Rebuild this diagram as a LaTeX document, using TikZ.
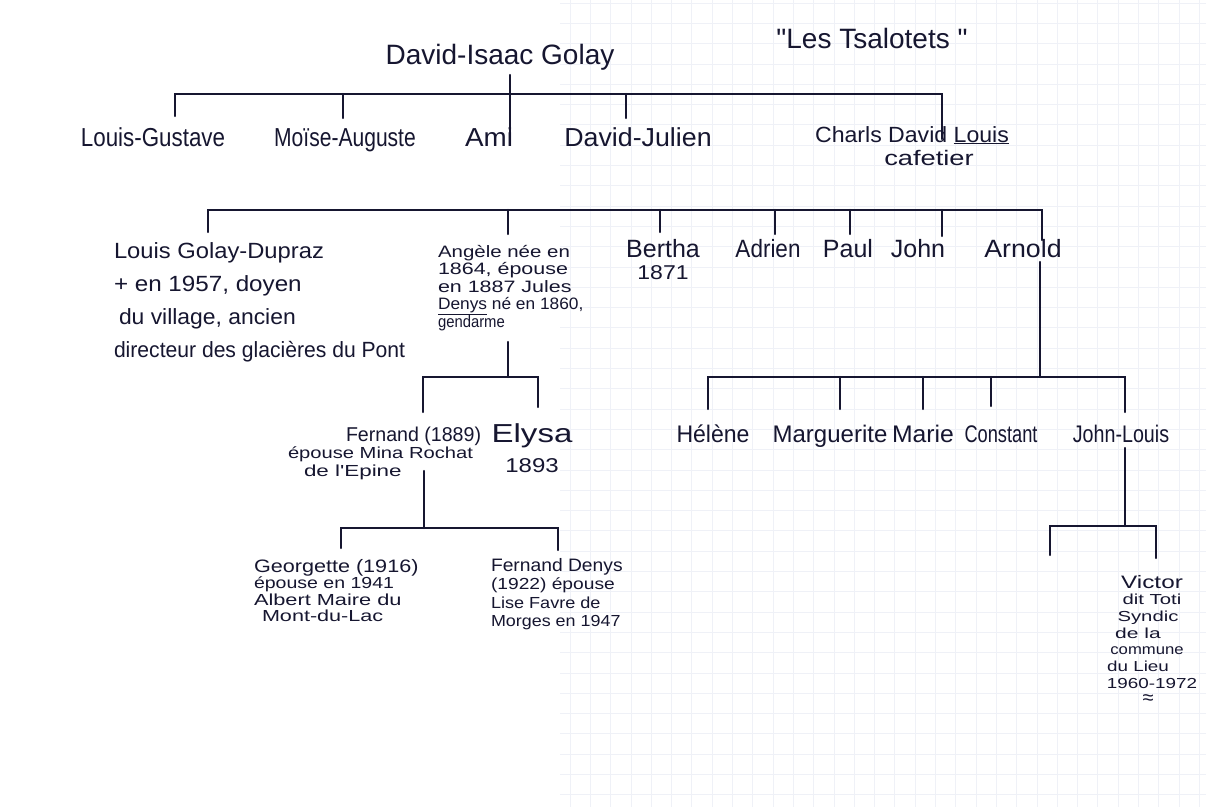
\documentclass[tikz,border=0pt]{standalone}
\usepackage{fontspec}
\setmainfont{Liberation Sans}[Ligatures=TeXOff]
\usepackage{graphicx}
\definecolor{inkc}{RGB}{22,22,48}
\definecolor{gridc}{RGB}{239,241,247}
\newcommand\sx[2]{\scalebox{#1}[1]{#2}}
\newcommand\hw[3]{\scalebox{#1}[1]{\fontsize{#2}{#2}\selectfont #3}}
\tikzset{
  inkline/.style={draw=inkc, line width=2.3pt, line cap=round},
  hw/.style={inner sep=0pt, outer sep=0pt, text=inkc, anchor=base},
  hwl/.style={inner sep=0pt, outer sep=0pt, text=inkc, anchor=base west},
  gridline/.style={draw=gridc, line width=0.8pt}
}
\begin{document}
\begin{tikzpicture}[x=1pt,y=-1pt]
\useasboundingbox (0,0) rectangle (1206,807);
\fill[white] (0,0) rectangle (1206,807);
% faint graph paper
\foreach \i in {0,...,31} {\draw[gridline] ({570+\i*20.3},0) -- ({570+\i*20.3},807);}
\foreach \j in {0,...,40} {\draw[gridline] (560,{3+\j*20.3}) -- (1206,{3+\j*20.3});}

% ---------- texts ----------
\node[hw] (tsa) at (872,48) {\hw{1}{28}{"Les Tsalotets "}};
\node[hw] (dig) at (500,64) {\hw{1}{28}{David-Isaac Golay}};

\node[hw] (lg)  at (153,146) {\hw{0.86}{26}{Louis-Gustave}};
\node[hw] (ma)  at (345,146) {\hw{0.81}{26}{Moïse-Auguste}};
\node[hw] (ami) at (489,146) {\hw{1.07}{26}{Ami}};
\node[hw] (dj)  at (638,146) {\hw{1.03}{26}{David-Julien}};
\node[hw] (cdl) at (912,142) {\hw{1.05}{22}{Charls David \underline{Louis}}};
\node[hw] (caf) at (929,165) {\hw{1.3}{21}{cafetier}};

\node[hwl] (lgd) at (114,258) {\fontsize{22}{33}\selectfont\begin{tabular}[t]{@{}l@{}}
  \sx{1.08}{Louis Golay-Dupraz}\\
  \sx{1.1}{+ en 1957, doyen}\\
  \hspace*{5pt}\sx{1.04}{du village, ancien}\\
  \sx{0.96}{directeur des glacières du Pont}
\end{tabular}};

\node[hwl] (ang) at (438,257) {\fontsize{16.5}{17.5}\selectfont\begin{tabular}[t]{@{}l@{}}
  \sx{1.24}{Angèle née en}\\
  \sx{1.3}{1864, épouse}\\
  \sx{1.3}{en 1887 Jules}\\
  \sx{1.05}{\underline{Denys} né en 1860,}\\
  \sx{0.9}{gendarme}
\end{tabular}};

\node[hw] (ber) at (663,257) {\fontsize{15}{22}\selectfont\begin{tabular}[t]{@{}c@{}}
  \hw{1}{25}{Bertha}\\
  \hw{1.15}{20}{1871}
\end{tabular}};
\node[hw] (adr) at (768,257) {\hw{0.9}{25}{Adrien}};
\node[hw] (pau) at (848,257) {\hw{1}{25}{Paul}};
\node[hw] (joh) at (918,257) {\hw{1}{25}{John}};
\node[hw] (arn) at (1023,257) {\hw{1.07}{25}{Arnold}};

\node[hwl] (fer) at (288,441) {\fontsize{16}{17.5}\selectfont\begin{tabular}[t]{@{}l@{}}
  \hspace*{58pt}\hw{0.98}{20}{Fernand (1889)}\\
  \sx{1.26}{épouse Mina Rochat}\\
  \hspace*{16pt}\sx{1.4}{de l'Epine}
\end{tabular}};
\node[hw] (ely) at (532,442) {\fontsize{15}{30}\selectfont\begin{tabular}[t]{@{}c@{}}
  \hw{1.27}{26}{Elysa}\\
  \hw{1.2}{20}{1893}
\end{tabular}};

\node[hw] (hel) at (713,442) {\hw{0.96}{24}{Hélène}};
\node[hw] (mar) at (830,442) {\hw{1.0}{24}{Marguerite}};
\node[hw] (mri) at (923,442) {\hw{1.03}{24}{Marie}};
\node[hw] (con) at (1001,442) {\hw{0.76}{24}{Constant}};
\node[hw] (jl)  at (1121,442) {\hw{0.82}{24}{John-Louis}};

\node[hwl] (geo) at (254,572) {\fontsize{16}{16.3}\selectfont\begin{tabular}[t]{@{}l@{}}
  \hw{1.2}{18}{Georgette (1916)}\\
  \sx{1.22}{épouse en 1941}\\
  \sx{1.36}{Albert Maire du}\\
  \hspace*{8pt}\sx{1.35}{Mont-du-Lac}
\end{tabular}};
\node[hwl] (fde) at (491,571) {\fontsize{16}{18.5}\selectfont\begin{tabular}[t]{@{}l@{}}
  \hw{1.07}{18}{Fernand Denys}\\
  \sx{1.2}{(1922) épouse}\\
  \sx{1.13}{Lise Favre de}\\
  \sx{1.12}{Morges en 1947}
\end{tabular}};

\node[hw] (vic) at (1152,588) {\fontsize{14.5}{16.7}\selectfont\begin{tabular}[t]{@{}c@{}}
  \hw{1.35}{18}{Victor}\\
  \sx{1.4}{dit Toti}\\
  \sx{1.4}{Syndic}\hspace*{8pt}\\
  \sx{1.45}{de la}\hspace*{28pt}\\
  \sx{1.15}{commune}\hspace*{10pt}\\
  \sx{1.3}{du Lieu}\hspace*{28pt}\\
  \sx{1.3}{1960-1972}\\
  \fontsize{20}{20}\selectfont ≈\hspace*{8pt}
\end{tabular}};

% ---------- connectors ----------
% generation 1
\coordinate (g1top) at (510,75);
\coordinate (g1bot) at (510,139);
\coordinate (g1L) at (175,94);
\coordinate (g1R) at (942,94);
\coordinate (g1ma) at (343,94);
\coordinate (g1dj) at (626,94);
\coordinate (lgT) at (175,116);
\coordinate (maT) at (343,118);
\coordinate (djT) at (626,118);
\coordinate (cdlT) at (942,139);
\draw[inkline] (g1top) -- (g1bot);
\draw[inkline] (lgT) -- (g1L) -- (g1R) -- (cdlT);
\draw[inkline] (g1ma) -- (maT);
\draw[inkline] (g1dj) -- (djT);

% generation 2 (children of Charles David Louis)
\coordinate (g2L) at (208,210);
\coordinate (g2R) at (1042,210);
\coordinate (lgdT) at (208,232);
\coordinate (g2an) at (508,210);   \coordinate (angT) at (508,234);
\coordinate (g2be) at (660,210);   \coordinate (berT) at (660,232);
\coordinate (g2ad) at (775,210);   \coordinate (adrT) at (775,234);
\coordinate (g2pa) at (850,210);   \coordinate (pauT) at (850,234);
\coordinate (g2jo) at (942,210);   \coordinate (johT) at (942,236);
\coordinate (arnT) at (1042,240);
\draw[inkline] (lgdT) -- (g2L) -- (g2R) -- (arnT);
\draw[inkline] (g2an) -- (angT);
\draw[inkline] (g2be) -- (berT);
\draw[inkline] (g2ad) -- (adrT);
\draw[inkline] (g2pa) -- (pauT);
\draw[inkline] (g2jo) -- (johT);

% Angele's children
\coordinate (angB) at (508,342);
\coordinate (g3a) at (508,377);
\coordinate (g3aL) at (423,377);
\coordinate (g3aR) at (538,377);
\coordinate (ferT) at (423,412);
\coordinate (elyT) at (538,407);
\draw[inkline] (angB) -- (g3a);
\draw[inkline] (ferT) -- (g3aL) -- (g3aR) -- (elyT);

% Arnold's children
\coordinate (arnB) at (1040,262);
\coordinate (g3b) at (1040,377);
\coordinate (g3bL) at (708,377);
\coordinate (g3bR) at (1125,377);
\coordinate (helT) at (708,409);
\coordinate (g3mg) at (840,377);  \coordinate (marT) at (840,409);
\coordinate (g3mr) at (923,377);  \coordinate (mriT) at (923,409);
\coordinate (g3co) at (991,377);  \coordinate (conT) at (991,406);
\coordinate (jlT) at (1125,412);
\draw[inkline] (arnB) -- (g3b);
\draw[inkline] (helT) -- (g3bL) -- (g3bR) -- (jlT);
\draw[inkline] (g3mg) -- (marT);
\draw[inkline] (g3mr) -- (mriT);
\draw[inkline] (g3co) -- (conT);

% Fernand's children
\coordinate (ferB) at (424,471);
\coordinate (g4a) at (424,528);
\coordinate (g4aL) at (341,528);
\coordinate (g4aR) at (558,528);
\coordinate (geoT) at (341,548);
\coordinate (fdeT) at (558,550);
\draw[inkline] (ferB) -- (g4a);
\draw[inkline] (geoT) -- (g4aL) -- (g4aR) -- (fdeT);

% John-Louis' children
\coordinate (jlB) at (1125,448);
\coordinate (g4b) at (1125,526);
\coordinate (g4bL) at (1050,526);
\coordinate (g4bR) at (1156,526);
\coordinate (g4bLT) at (1050,555);
\coordinate (vicT) at (1156,558);
\draw[inkline] (jlB) -- (g4b);
\draw[inkline] (g4bLT) -- (g4bL) -- (g4bR) -- (vicT);
\end{tikzpicture}
\end{document}
